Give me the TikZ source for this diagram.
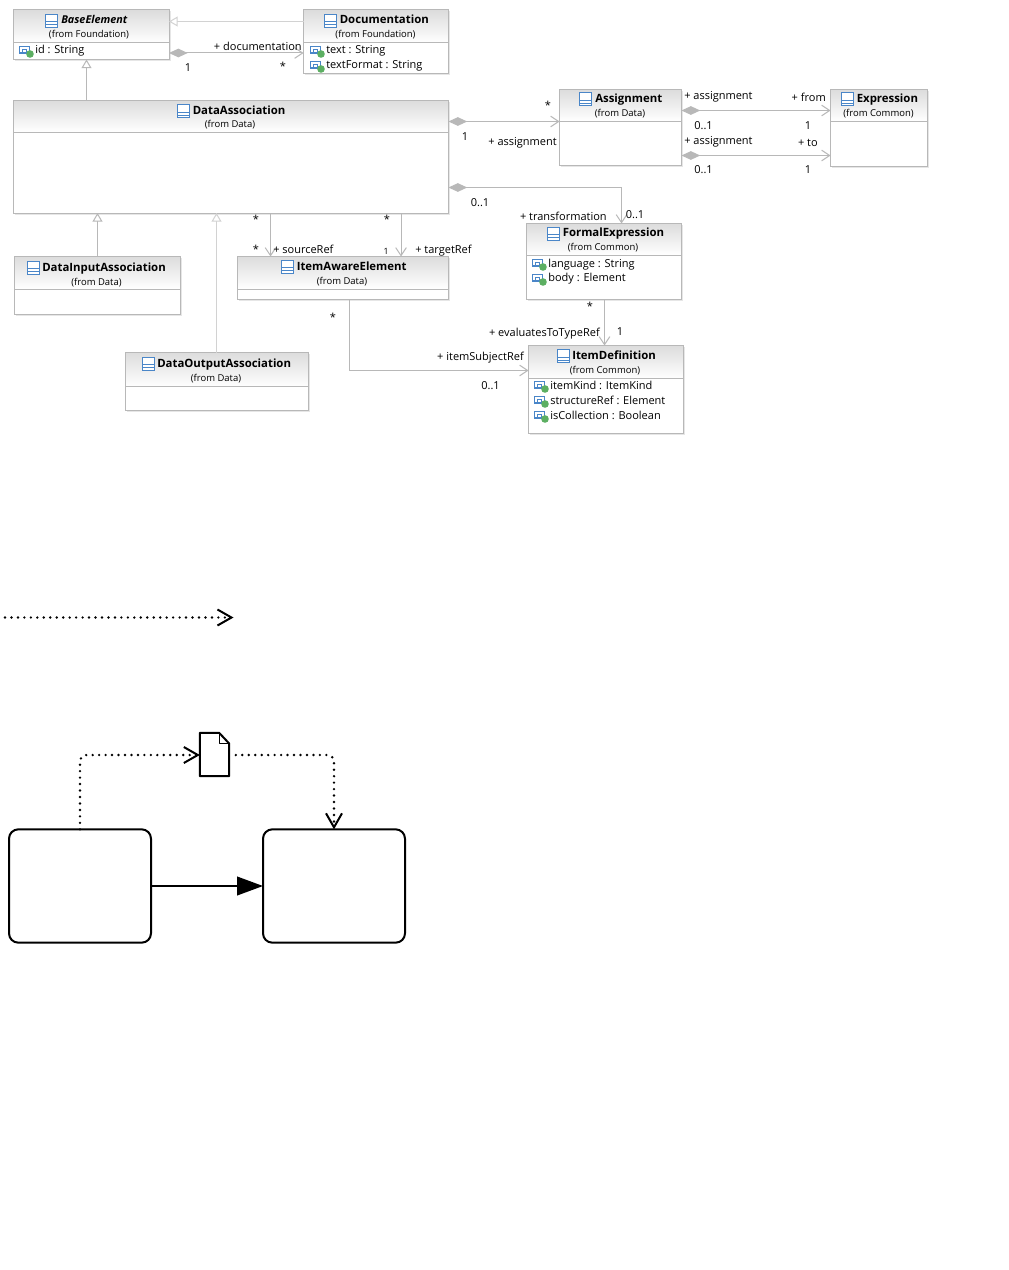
\documentclass[tikz,border=0pt]{standalone}
\usepackage{fontspec}
\setmainfont{Open Sans}
\usetikzlibrary{arrows.meta}
\definecolor{lineGrey}{HTML}{B8B8B8}
\definecolor{lightGrey}{HTML}{D2D2D2}
\definecolor{hdrTop}{HTML}{DCDCDC}
\definecolor{shadowGrey}{HTML}{E6E6E6}
\definecolor{iconBlue}{HTML}{4A86C8}
\definecolor{iconGreen}{HTML}{5CAF62}
\tikzset{
  classbox/.style={draw=lineGrey,line width=.75pt,inner sep=0pt,outer sep=0pt},
  divider/.style={draw=lineGrey,line width=.75pt},
  titletext/.style={font=\fontsize{8.55}{10}\selectfont\bfseries,inner sep=0pt,anchor=west,text height=6.5pt,text depth=2pt,yshift=-.75pt},
  fromtext/.style={font=\fontsize{7.1}{9}\selectfont,inner sep=0pt,text height=6pt,text depth=2pt,yshift=-.75pt},
  attrtext/.style={font=\fontsize{8.25}{10}\selectfont,inner sep=0pt,anchor=west,text height=6.5pt,text depth=2pt,yshift=-.75pt},
  lbl/.style={font=\fontsize{8.25}{10}\selectfont,inner sep=0pt,text height=6.5pt,text depth=2pt,yshift=-.75pt},
  assoc/.style={draw=lineGrey,line width=.75pt},
  compos/.style={assoc,{Diamond[length=14pt,width=6.5pt,fill=lineGrey]}-{Straight Barb[length=6pt,width=8pt]}},
  navig/.style={assoc,-{Straight Barb[length=6pt,width=8pt]}},
  general/.style={assoc,-{Triangle[length=6.5pt,width=7.5pt,fill=white]}},
  generallight/.style={general,draw=lightGrey},
  taskbox/.style={draw=black,line width=1.5pt,fill=white,rounded corners=7pt,inner sep=0pt,outer sep=0pt,minimum width=106.5pt,minimum height=85pt},
  dotflow/.style={draw=black,line width=2pt,line cap=round,dash pattern=on 0pt off 4.85pt,rounded corners=5pt,
     -{Straight Barb[length=10.5pt,width=12pt,line width=1.5pt,line cap=butt]}},
  seqflow/.style={draw=black,line width=1.5pt,-{Triangle[length=19.5pt,width=14pt,fill=black]}},
  dataobj/.style={inner sep=0pt,outer sep=0pt,minimum width=22pt,minimum height=32.5pt},
}
\newcommand{\umlbox}[6]{%
  \fill[shadowGrey] (#2+1.5,#3+1.5) rectangle (#4+1.5,#5+1.5);
  \fill[white] (#2,#3) rectangle (#4,#5);
  \shade[top color=hdrTop,bottom color=white] (#2,#3) rectangle (#4,#6);
  \node[classbox,minimum width={(#4-#2)*0.75pt},minimum height={(#5-#3)*0.75pt}] (#1) at ({(#2+#4)/2},{(#3+#5)/2}) {};
  \draw[divider] (#1.west |- 0,#6) -- (#1.east |- 0,#6);
}
\newcommand{\classicon}[2]{%
  \draw[iconBlue,line width=.75pt,fill=white] (#1,#2-6.5) rectangle (#1+12,#2+6.5);
  \draw[iconBlue,line width=.75pt] (#1,#2+1) -- (#1+12,#2+1) (#1,#2+4) -- (#1+12,#2+4);
}
\newcommand{\attricon}[2]{%
  \draw[iconBlue,line width=.9pt,fill=white] (#1,#2-3.5) rectangle (#1+10,#2+3);
  \draw[iconBlue,line width=.5pt] (#1+2.5,#2-.5) rectangle (#1+7,#2+3);
  \fill[iconGreen] (#1+10.5,#2+4) circle[radius=3.8];
}
\begin{document}
\begin{tikzpicture}[x=0.75pt,y=-0.75pt]
\useasboundingbox (0,0) rectangle (1009,1270);
\fill[white] (0,0) rectangle (1009,1270);

% --- UML boxes
\umlbox{be}{13}{10}{169}{59.5}{43}
\umlbox{doc}{303.5}{10}{448.5}{74}{43}
\umlbox{da}{13.5}{100.5}{448.5}{213}{132}
\umlbox{asg}{559.5}{89.5}{681.5}{165.5}{121}
\umlbox{expr}{830.5}{89.5}{927.5}{166}{121}
\umlbox{fe}{526.5}{223.5}{681.5}{299.5}{255}
\umlbox{idf}{528.5}{345.5}{683.5}{433}{378.5}
\umlbox{dia}{14.5}{256.5}{180}{314.5}{289}
\umlbox{doa}{125.5}{352.5}{308.5}{410.5}{386.5}
\umlbox{iae}{237.5}{256.5}{448.5}{299.5}{289}

% --- titles
\classicon{45.5}{21}
\node[titletext,font=\fontsize{8.1}{10}\selectfont\bfseries\itshape] (tbe) at (61,20) {BaseElement};
\node[fromtext] (fbe) at (89,34) {(from Foundation)};
\classicon{324.5}{21}
\node[titletext] (tdoc) at (339.5,20) {Documentation};
\node[fromtext] (fdoc) at (375.5,34) {(from Foundation)};
\classicon{177.5}{111}
\node[titletext] (tda) at (192.5,110) {DataAssociation};
\node[fromtext] (fda) at (230,124) {(from Data)};
\classicon{579.5}{99}
\node[titletext] (tasg) at (595,98.5) {Assignment};
\node[fromtext] (fasg) at (620,113) {(from Data)};
\classicon{841.5}{99}
\node[titletext] (texpr) at (856.5,98.5) {Expression};
\node[fromtext] (fexpr) at (878.5,113) {(from Common)};
\classicon{547.5}{233.5}
\node[titletext] (tfe) at (562.5,232.5) {FormalExpression};
\node[fromtext] (ffe) at (603,247) {(from Common)};
\classicon{557.5}{356}
\node[titletext] (tidf) at (572,355.5) {ItemDefinition};
\node[fromtext] (fidf) at (605,370) {(from Common)};
\classicon{27.5}{267.5}
\node[titletext] (tdia) at (42,267) {DataInputAssociation};
\node[fromtext] (fdia) at (96.5,282) {(from Data)};
\classicon{142.5}{363.5}
\node[titletext] (tdoa) at (157,363) {DataOutputAssociation};
\node[fromtext] (fdoa) at (216,377.5) {(from Data)};
\classicon{281.5}{266.5}
\node[titletext] (tiae) at (296.5,266) {ItemAwareElement};
\node[fromtext] (fiae) at (342,281) {(from Data)};

% --- attributes
\attricon{19.5}{50}
\node[attrtext] (a1) at (35,50) {id : String};
\attricon{310.5}{50}
\node[attrtext] (a2) at (326,50) {text : String};
\attricon{310.5}{65}
\node[attrtext] (a3) at (326,65) {textFormat : String};
\attricon{532.5}{263}
\node[attrtext] (a4) at (548,263) {language : String};
\attricon{532.5}{278}
\node[attrtext] (a5) at (548,277.5) {body : Element};
\attricon{534.5}{385}
\node[attrtext] (a6) at (550,385) {itemKind : ItemKind};
\attricon{534.5}{400}
\node[attrtext] (a7) at (550,400) {structureRef : Element};
\attricon{534.5}{415}
\node[attrtext] (a8) at (550,415) {isCollection : Boolean};

% --- UML connectors
\draw[generallight] (doc.west |- 0,21.5) -- (be.east |- 0,21.5);
\draw[compos] (be.east |- 0,53) -- (doc.west |- 0,53);
\draw[general] (da.north -| 86.5,0) -- (be.south -| 86.5,0);
\draw[compos] (da.east |- 0,121.5) -- (asg.west |- 0,121.5);
\draw[compos] (asg.east |- 0,110.5) -- (expr.west |- 0,110.5);
\draw[compos] (asg.east |- 0,155.5) -- (expr.west |- 0,155.5);
\draw[compos] (da.east |- 0,187.5) -- (621.5,187.5) -- (fe.north -| 621.5,0);
\draw[navig] (da.south -| 270.5,0) -- (iae.north -| 270.5,0);
\draw[navig] (da.south -| 401,0) -- (iae.north -| 401,0);
\draw[general] (dia.north -| 97.5,0) -- (da.south -| 97.5,0);
\draw[generallight] (doa.north -| 216.5,0) -- (da.south -| 216.5,0);
\draw[navig] (iae.south -| 349.5,0) -- (349.5,370.5) -- (idf.west |- 0,370.5);
\draw[navig] (fe.south -| 604.5,0) -- (idf.north -| 604.5,0);

% --- UML labels
\node[lbl,anchor=east] (l1) at (302,47) {+ documentation};
\node[lbl] (l2) at (188,68) {1};
\node[lbl] (l3) at (283,66) {*};
\node[lbl] (l4) at (548,105) {*};
\node[lbl] (l5) at (465,136) {1};
\node[lbl,anchor=east] (l6) at (557,141) {+ assignment};
\node[lbl,anchor=west] (l7) at (684,95) {+ assignment};
\node[lbl,anchor=east] (l8) at (826,97) {+ from};
\node[lbl] (l9) at (703.5,125) {0..1};
\node[lbl] (l10) at (808,125) {1};
\node[lbl,anchor=west] (l11) at (684,140) {+ assignment};
\node[lbl,anchor=east] (l12) at (818,142) {+ to};
\node[lbl] (l13) at (703.5,169.5) {0..1};
\node[lbl] (l14) at (808,169.5) {1};
\node[lbl] (l15) at (480,202) {0..1};
\node[lbl,anchor=east] (l16) at (607,216) {+ transformation};
\node[lbl] (l17) at (635,214) {0..1};
\node[lbl] (l18) at (256,219) {*};
\node[lbl] (l19) at (387,219) {*};
\node[lbl] (l20) at (256,249) {*};
\node[lbl,anchor=west] (l21) at (273,249) {+ sourceRef};
\node[lbl,font=\fontsize{6.5}{8}\selectfont] (l22) at (386,250) {1};
\node[lbl,anchor=west] (l23) at (415,249) {+ targetRef};
\node[lbl] (l24) at (333,317) {*};
\node[lbl,anchor=east] (l25) at (524,356) {+ itemSubjectRef};
\node[lbl] (l26) at (490.5,385) {0..1};
\node[lbl] (l27) at (590,306) {*};
\node[lbl,anchor=east] (l28) at (600,332) {+ evaluatesToTypeRef};
\node[lbl] (l29) at (620,331) {1};

% --- BPMN part
\coordinate (dotstart) at (5,617.5);
\coordinate (dotend) at (233.5,617.5);
\draw[dotflow] (dotstart) -- (dotend);

\node[taskbox] (taskA) at (80,886) {};
\node[taskbox] (taskB) at (334,886) {};
\node[dataobj] (dobj) at (214.5,754.5) {};
\draw[black,line width=1.5pt,line join=round,fill=white]
  (dobj.south west) -- (dobj.north west) -- ([xshift=-7.5pt]dobj.north east) -- ([yshift=-8pt]dobj.north east) -- (dobj.south east) -- cycle;
\draw[black,line width=1pt,line join=round]
  ([xshift=-7.5pt]dobj.north east) -- ([xshift=-7.5pt,yshift=-8pt]dobj.north east) -- ([yshift=-8pt]dobj.north east);
\draw[seqflow] (taskA.east) -- (taskB.west);
\draw[dotflow] (taskA.north) -- (80,755) -- (dobj.west |- 0,755);
\draw[dotflow] ([xshift=5pt]dobj.east |- 0,755) -- (334,755) -- (taskB.north);
\end{tikzpicture}
\end{document}
